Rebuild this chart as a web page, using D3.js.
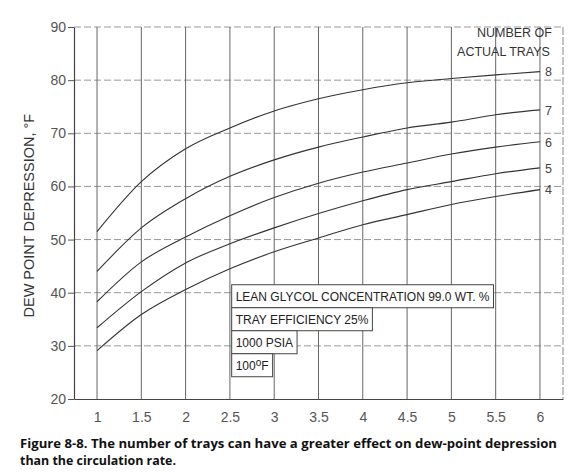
<!DOCTYPE html>
<html>
<head>
<meta charset="utf-8">
<script src="https://cdn.jsdelivr.net/npm/d3@7"></script>
<style>
  body { margin: 0; background: #fff; }
  text { font-family: "Liberation Sans", Arial, sans-serif; }
</style>
</head>
<body>
<div id="chart"></div>
<script>
// chart data
const circRate = [1, 1.5, 2, 2.5, 3, 3.5, 4, 4.5, 5, 5.5, 6];
const trays = [8, 7, 6, 5, 4];
const trays8 = [51.5, 60.9, 67.1, 71.0, 74.2, 76.5, 78.2, 79.5, 80.3, 81.0, 81.6];
const trays7 = [44.0, 52.2, 57.7, 61.9, 65.0, 67.4, 69.3, 71.0, 72.1, 73.5, 74.4];
const trays6 = [38.3, 45.8, 50.5, 54.5, 57.9, 60.6, 62.7, 64.4, 66.1, 67.4, 68.4];
const trays5 = [33.4, 40.2, 45.6, 49.2, 52.2, 54.9, 57.3, 59.4, 60.9, 62.4, 63.5];
const trays4 = [29.1, 35.9, 40.6, 44.5, 47.7, 50.3, 52.8, 54.7, 56.6, 58.1, 59.4];
const seriesValues = [trays8, trays7, trays6, trays5, trays4];
const xTicks = [1, 1.5, 2, 2.5, 3, 3.5, 4, 4.5, 5, 5.5, 6];
const yTicks = [20, 30, 40, 50, 60, 70, 80, 90];
const notes = ["LEAN GLYCOL CONCENTRATION 99.0 WT. %", "TRAY EFFICIENCY 25%", "1000 PSIA", "100°F"];

const width = 583,
    height = 476,
    margin = ({ top: 27, right: 20, bottom: 77, left: 74 });

const svg = d3.select("#chart")
    .append("svg")
    .attr("width", width)
    .attr("height", height)
    .attr("viewBox", [0, 0, width, height]);

let x = d3.scaleLinear()
    .domain([0.74, 6.26])
    .range([margin.left, width - margin.right]);

let y = d3.scaleLinear()
    .domain([20, 90])
    .range([height - margin.bottom, margin.top]);

// horizontal grid (dashed)
svg.append("g")
    .selectAll("line")
    .data(yTicks.slice(1))
    .join("line")
    .attr("x1", margin.left)
    .attr("x2", width - margin.right)
    .attr("y1", d => y(d))
    .attr("y2", d => y(d))
    .attr("stroke", "#999")
    .attr("stroke-width", 1)
    .attr("stroke-dasharray", "7,3");

// vertical grid
svg.append("g")
    .selectAll("line")
    .data(xTicks)
    .join("line")
    .attr("x1", d => x(d))
    .attr("x2", d => x(d))
    .attr("y1", margin.top)
    .attr("y2", height - margin.bottom)
    .attr("stroke", "#666")
    .attr("stroke-width", 1);

// right frame
svg.append("line")
    .attr("x1", width - margin.right).attr("x2", width - margin.right)
    .attr("y1", margin.top).attr("y2", height - margin.bottom)
    .attr("stroke", "#888")
    .attr("stroke-dasharray", "8,2");

// axes
const xAxis = svg.append("g")
    .attr("transform", `translate(0,${height - margin.bottom})`)
    .call(d3.axisBottom(x).tickValues(xTicks).tickFormat(d3.format("~g"))
        .tickSize(0).tickSizeOuter(0).tickPadding(13));

const yAxis = svg.append("g")
    .attr("transform", `translate(${margin.left},0)`)
    .call(d3.axisLeft(y).tickValues(yTicks).tickSize(6).tickSizeOuter(0).tickPadding(2));

[xAxis, yAxis].forEach(a => {
    a.select(".domain").attr("stroke", "#444").attr("stroke-width", 1.2);
    a.selectAll(".tick line").attr("stroke", "#555");
    a.selectAll(".tick text")
        .attr("fill", "#555")
        .style("font-family", "'Liberation Sans', Arial, sans-serif")
        .style("font-size", "14px");
});

// y label
svg.append("text")
    .attr("transform", "rotate(-90)")
    .attr("x", -y(54.5))
    .attr("y", 34)
    .attr("text-anchor", "middle")
    .attr("fill", "#333")
    .style("font-size", "14.5px")
    .text("DEW POINT DEPRESSION, °F");

// curves
let line = d3.line()
    .x((d, i) => x(circRate[i]))
    .y(d => y(d))
    .curve(d3.curveMonotoneX);

svg.append("g")
    .selectAll("path")
    .data(seriesValues)
    .join("path")
    .attr("d", line)
    .attr("fill", "none")
    .attr("stroke", "#333")
    .attr("stroke-width", 1.1);

// curve labels
svg.append("g")
    .selectAll("text")
    .data(seriesValues)
    .join("text")
    .attr("x", x(6) + 5)
    .attr("y", d => y(d[d.length - 1]))
    .attr("dy", "0.38em")
    .attr("fill", "#444")
    .style("font-size", "12.5px")
    .text((d, i) => trays[i]);

svg.append("text")
    .attr("x", x(6) + 12)
    .attr("y", y(88.2))
    .attr("text-anchor", "end")
    .attr("fill", "#333")
    .style("font-size", "12.5px")
    .text("NUMBER OF");

svg.append("text")
    .attr("x", x(6) + 10)
    .attr("y", y(84.6))
    .attr("text-anchor", "end")
    .attr("fill", "#333")
    .style("font-size", "12.5px")
    .text("ACTUAL TRAYS");

// condition boxes
const boxX = x(2.52), boxY = y(41.5), rowH = 23;
const noteG = svg.append("g");
notes.forEach((t, i) => {
    const g = noteG.append("g");
    const rect = g.append("rect")
        .attr("x", boxX)
        .attr("y", boxY + i * rowH)
        .attr("height", rowH)
        .attr("fill", "#fff")
        .attr("stroke", "#444")
        .attr("stroke-width", 1);
    const txt = g.append("text")
        .attr("x", boxX + 4)
        .attr("y", boxY + i * rowH + 16)
        .attr("fill", "#222")
        .style("font-size", "12px");
    if (t.endsWith("°F")) {
        txt.text("100");
        txt.append("tspan").attr("dy", -4).style("font-size", "10px").text("o");
        txt.append("tspan").attr("dy", 4).text("F");
    } else {
        txt.text(t);
    }
    rect.attr("width", txt.node().getComputedTextLength() + 8);
});

// caption
svg.append("text")
    .attr("x", 20)
    .attr("y", 448)
    .attr("fill", "#111")
    .attr("textLength", 537)
    .attr("lengthAdjust", "spacingAndGlyphs")
    .style("font-family", "'Open Sans', sans-serif")
    .style("font-weight", "bold")
    .style("font-size", "12.5px")
    .text("Figure 8-8. The number of trays can have a greater effect on dew-point depression");

svg.append("text")
    .attr("x", 20)
    .attr("y", 465)
    .attr("fill", "#111")
    .attr("textLength", 156)
    .attr("lengthAdjust", "spacingAndGlyphs")
    .style("font-family", "'Open Sans', sans-serif")
    .style("font-weight", "bold")
    .style("font-size", "12.5px")
    .text("than the circulation rate.");
</script>
</body>
</html>
